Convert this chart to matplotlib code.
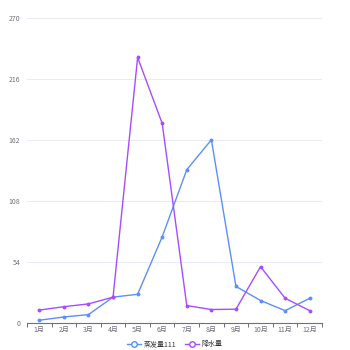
import matplotlib
matplotlib.use("Agg")
import matplotlib.pyplot as plt
from matplotlib.lines import Line2D

plt.rcParams['font.family'] = ['Noto Sans CJK SC', 'DejaVu Sans']

months = ['1月', '2月', '3月', '4月', '5月', '6月', '7月', '8月', '9月', '10月', '11月', '12月']
evaporation = [2.0, 4.9, 7.0, 22.5, 25.0, 76.0, 135.5, 162.0, 32.0, 19.5, 10.5, 21.5]
precipitation = [11.0, 14.0, 16.5, 22.5, 235.0, 176.5, 15.0, 11.5, 11.8, 49.5, 21.5, 10.5]
series_names = ['蒸发量111', '降水量']
y_ticks = [0, 54, 108, 162, 216, 270]

blue = '#5b8ff9'
purple = '#a64dff'
axis_color = '#6e7079'
grid_color = '#e9ebf2'

fig = plt.figure(figsize=(3.5, 3.5), dpi=100)
ax = fig.add_axes([27 / 350, 27.5 / 350, 295 / 350, 304.5 / 350])

x = list(range(len(months)))
ax.plot(x, evaporation, color=blue, lw=1.0, marker='o', ms=1.8, zorder=3)
ax.plot(x, precipitation, color=purple, lw=1.0, marker='o', ms=1.8, zorder=3)

ax.set_xlim(-0.5, len(months) - 0.5)
ax.set_ylim(0, 270)
ax.set_yticks(y_ticks)
ax.set_yticklabels([str(v) for v in y_ticks])
ax.set_xticks(x)
ax.set_xticklabels(months)
ax.set_xticks([i - 0.5 for i in range(len(months) + 1)], minor=True)

for s in ['top', 'right', 'left']:
    ax.spines[s].set_visible(False)
ax.spines['bottom'].set_color(axis_color)
ax.spines['bottom'].set_linewidth(0.8)

ax.grid(axis='y', color=grid_color, lw=0.7)
ax.set_axisbelow(True)
ax.tick_params(axis='y', length=0, labelsize=5, labelcolor=axis_color, pad=5)
ax.tick_params(axis='x', which='major', length=0, labelsize=5, labelcolor=axis_color, pad=2.5)
ax.tick_params(axis='x', which='minor', length=3, color=axis_color, width=0.7)

handles = [
    Line2D([0], [0], color=blue, lw=1.0, marker='o', ms=4, mfc='white', mew=1.0),
    Line2D([0], [0], color=purple, lw=1.0, marker='o', ms=4, mfc='white', mew=1.0),
]
fig.legend(handles, series_names, loc='center', bbox_to_anchor=(0.5, 6 / 350),
           ncol=2, frameon=False, fontsize=5, handlelength=2.0, columnspacing=1.2,
           handletextpad=0.4, labelcolor='#333333')

fig.savefig('out.png', dpi=100)
